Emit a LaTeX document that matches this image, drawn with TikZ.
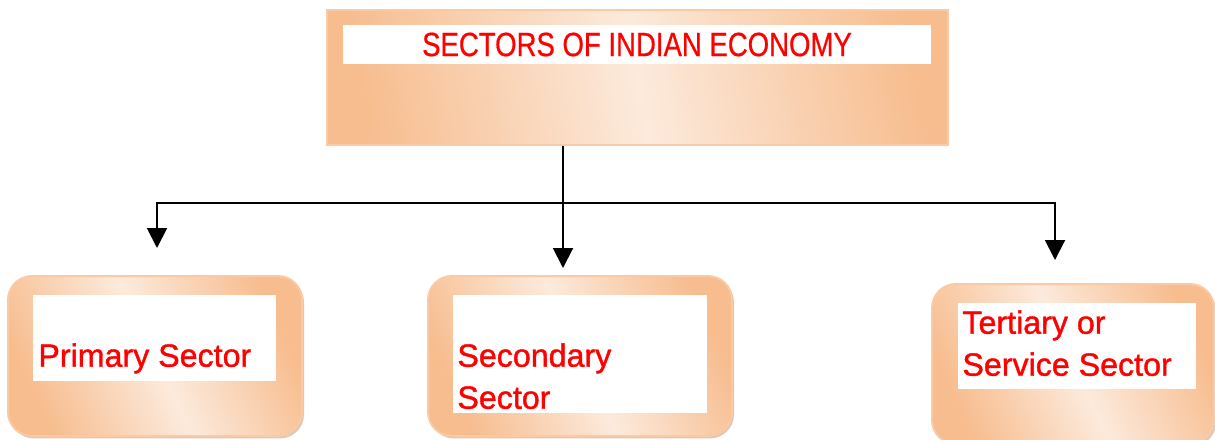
\documentclass[tikz,border=0pt]{standalone}
\usepackage{fontspec}
\setmainfont{Liberation Sans}
\newfontfamily\titlefont[FakeStretch=0.82,FakeBold=0.6]{Liberation Sans}
\newfontfamily\sectorfont[FakeBold=1.2]{Liberation Sans}
\usepackage{tikz}
\usetikzlibrary{arrows.meta}
\usetikzlibrary{shadows}

\definecolor{peach}{RGB}{247,189,143}
\definecolor{peachlight}{RGB}{252,234,220}
\definecolor{peachline}{RGB}{249,202,164}
\definecolor{labelred}{RGB}{255,0,0}

\begin{document}
\begin{tikzpicture}[
	x=0.5pt,
	y=-0.5pt,
	sector/.style={
		rectangle,
		draw=peachline,
		line width=1pt,
		left color=peach,
		right color=peach,
		middle color=peachlight,
		shading angle=115
		},
	head/.style={
		sector,
		shading angle=100,
		line width=0.8pt
	},
	sub/.style={
		sector,
		rounded corners=12pt,
		drop shadow={shadow xshift=1pt, shadow yshift=-1.2pt, fill=peach!70!black, opacity=0.45}
	},
	inner/.style={
		rectangle,
		fill=white,
		inner sep=0pt
	},
	label/.style={
		anchor=north west,
		inner sep=0pt,
		align=left,
		text=labelred,
		font=\sectorfont\fontsize{16.1pt}{21pt}\selectfont
	},
	link/.style={
		line width=1pt,
		draw=black
	},
	arrow/.style={
		link,
		-{Triangle[width=10pt,length=10pt]}
	}
]

\useasboundingbox (0,0) rectangle (1215,439);

% Top box
\node [head, minimum width=310.5pt, minimum height=67.5pt] (Economy) at (637.5,77.5) {};
\node [inner, minimum width=294pt, minimum height=19.5pt] (Economy title) at (637,44.5)
	{\titlefont\fontsize{16.8pt}{20pt}\selectfont\color{labelred}SECTORS OF INDIAN ECONOMY};

% Sector boxes
\node [sub, minimum width=147pt, minimum height=80pt] (Primary) at (155,356) {};
\node [inner, minimum width=121.5pt, minimum height=43pt] (Primary field) at (154.5,338) {};
\node [label] (Primary text) at (38,343) {Primary Sector};

\node [sub, minimum width=152pt, minimum height=80pt] (Secondary) at (580,356) {};
\node [inner, minimum width=127pt, minimum height=59pt] (Secondary field) at (580,354) {};
\node [label] (Secondary text) at (457,343) {Secondary\\Sector};

\node [sub, minimum width=141pt, minimum height=80pt] (Tertiary) at (1073,364) {};
\node [inner, minimum width=119pt, minimum height=43pt] (Tertiary field) at (1077,346) {};
\node [label] (Tertiary text) at (962,310) {Tertiary or\\Service Sector};

% Arrows
\coordinate (Fork) at (563,203);
\coordinate (Primary tip) at (157,248);
\coordinate (Secondary tip) at (563,268);
\coordinate (Tertiary tip) at (1055,260);
\draw [arrow] (Economy.south -| Fork) -- (Secondary tip);
\draw [arrow] (Fork) -| (Primary tip);
\draw [arrow] (Fork) -| (Tertiary tip);

\end{tikzpicture}
\end{document}
